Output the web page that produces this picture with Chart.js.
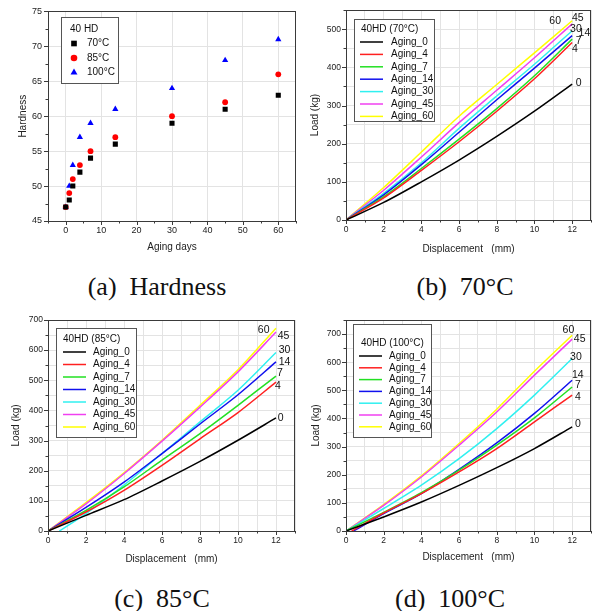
<!DOCTYPE html>
<html>
<head>
<meta charset="utf-8">
<script src="https://cdn.jsdelivr.net/npm/chart.js@4.4.1/dist/chart.umd.min.js"></script>
<style>
  body { margin: 0; background: #fff; width: 596px; height: 611px; position: relative; overflow: hidden; }
  canvas { position: absolute; }
  .cap { position: absolute; font-family: "Liberation Serif", "Times New Roman", serif; font-size: 26px; color: #111;
         white-space: pre; transform: translate(-50%, -50%); line-height: 1; }
</style>
</head>
<body>
<canvas id="chartA" width="300" height="260" style="left:0;top:0"></canvas>
<canvas id="chartB" width="296" height="260" style="left:300px;top:0"></canvas>
<canvas id="chartC" width="300" height="270" style="left:0;top:305px"></canvas>
<canvas id="chartD" width="296" height="270" style="left:300px;top:305px"></canvas>
<div class="cap" style="left:157px;top:287px">(a)  Hardness</div>
<div class="cap" style="left:465px;top:287px">(b)  70°C</div>
<div class="cap" style="left:162px;top:599px">(c)  85°C</div>
<div class="cap" style="left:450px;top:599px">(d)  100°C</div>
<script>
// données dureté
const agingDaysA = [0, 1, 2, 4, 7, 14, 30, 45, 60];
const hard70 = [47, 48, 50, 52, 54, 56, 59, 61, 63];
const hard85 = [47, 49, 51, 53, 55, 57, 60, 62, 66];
const hard100 = [47, 50, 53, 57, 59, 61, 64, 68, 71];
const tempLabels = ['70°C', '85°C', '100°C'];

// courbes charge / déplacement
const disp = [0, 2, 4, 6, 8, 10, 12];
const agingNames = ['Aging_0', 'Aging_4', 'Aging_7', 'Aging_14', 'Aging_30', 'Aging_45', 'Aging_60'];
const agingColors = ['#000000', '#ff2020', '#22e022', '#1010ee', '#30f0f0', '#f040f0', '#ffff00'];

const load70 = [
  [0, 46, 100, 157, 219, 285, 356],
  [0, 58, 130, 205, 285, 370, 465],
  [0, 61, 135, 212, 292, 378, 474],
  [0, 66, 145, 230, 315, 398, 483],
  [0, 70, 150, 240, 325, 408, 496],
  [0, 78, 165, 255, 340, 425, 514],
  [0, 85, 178, 272, 355, 438, 522]
];
const start70 = [0, 0, 0, 0, 0, 0, 0];

const load85 = [
  [0, 52, 104, 166, 231, 301, 375],
  [0, 63, 135, 218, 306, 393, 494],
  [0, 68, 146, 235, 323, 417, 514],
  [0, 78, 162, 257, 355, 452, 561],
  [0, 58, 152, 257, 362, 467, 592],
  [0, 90, 190, 298, 411, 528, 660],
  [0, 94, 193, 301, 417, 535, 673]
];
const start85 = [0, 0, 0, 0, 0.6, 0, 0];

const load100 = [
  [0, 50, 103, 162, 225, 293, 370],
  [0, 64, 133, 210, 293, 388, 483],
  [0, 66, 136, 216, 305, 402, 512],
  [0, 62, 133, 219, 313, 418, 536],
  [0, 80, 163, 257, 364, 483, 613],
  [0, 91, 192, 305, 423, 554, 682],
  [0, 94, 196, 311, 433, 568, 696]
];
const start100 = [0, 0.3, 0, 0.4, 0, 0, 0];

Chart.defaults.font.family = '"Liberation Sans", Arial, sans-serif';
Chart.defaults.color = '#222';

// réglages de décor par graphique (légende, étiquettes de fin)
const deco = {
  chartA: {
    xMajor: 10, yMajor: 5,
    legend: { kind: 'marker', x: 61, y: 17, w: 57, h: 66, title: '40 HD', titleX: 70, titleY: 29,
              row0: 43.5, rowH: 14.5, symX: 74, textX: 87, font: 10 },
    ends: []
  },
  chartB: {
    xMajor: 2, yMajor: 100,
    legend: { kind: 'line', x: 54, y: 19, w: 80, h: 102, title: '40HD (70°C)', titleX: 61, titleY: 29.5,
              row0: 42, rowH: 12.4, symX: 60, symX2: 83, textX: 91, font: 10 },
    ends: [['60', 11.1, 522], ['45', 12.3, 528], ['30', 12.2, 501], ['14', 12.65, 491],
           ['7', 12.35, 470], ['4', 12.15, 449], ['0', 12.35, 358]]
  },
  chartC: {
    xMajor: 2, yMajor: 100,
    legend: { kind: 'line', x: 56, y: 23, w: 80, h: 109, title: '40HD (85°C)', titleX: 63, titleY: 34,
              row0: 47, rowH: 12.5, symX: 63, symX2: 86, textX: 93, font: 10 },
    ends: [['60', 11.35, 666], ['45', 12.4, 647], ['30', 12.45, 600], ['14', 12.45, 559],
           ['7', 12.2, 525], ['4', 12.1, 481], ['0', 12.25, 373]]
  },
  chartD: {
    xMajor: 2, yMajor: 100,
    legend: { kind: 'line', x: 53, y: 19, w: 78, h: 113, title: '40HD (100°C)', titleX: 61, titleY: 38,
              row0: 51, rowH: 11.8, symX: 59, symX2: 82, textX: 89, font: 10 },
    ends: [['60', 11.8, 714], ['45', 12.4, 682], ['30', 12.2, 617], ['14', 12.3, 554],
           ['7', 12.3, 518], ['4', 12.3, 477], ['0', 12.3, 379]]
  }
};

function isMajor(v, major) {
  const r = v / major;
  return Math.abs(r - Math.round(r)) < 1e-6;
}

function drawMarker(ctx, style, x, y, r, color) {
  ctx.fillStyle = color;
  ctx.beginPath();
  if (style === 'rect') {
    const s = r * Math.SQRT1_2;
    ctx.rect(x - s, y - s, 2 * s, 2 * s);
  } else if (style === 'triangle') {
    ctx.moveTo(x, y - r);
    ctx.lineTo(x + r * 0.866, y + r * 0.5);
    ctx.lineTo(x - r * 0.866, y + r * 0.5);
    ctx.closePath();
  } else {
    ctx.arc(x, y, r, 0, Math.PI * 2);
  }
  ctx.fill();
}

const decorPlugin = {
  id: 'decor',
  afterDraw(chart) {
    const conf = deco[chart.canvas.id];
    const { ctx, chartArea: a, scales: { x, y } } = chart;
    ctx.save();
    // cadre
    ctx.strokeStyle = '#3a3a3a';
    ctx.lineWidth = 1;
    ctx.strokeRect(Math.round(a.left) + 0.5, Math.round(a.top) + 0.5,
                   Math.round(a.right - a.left) - 1, Math.round(a.bottom - a.top));
    // graduations vers l'extérieur
    ctx.beginPath();
    x.ticks.forEach(t => {
      const px = Math.round(x.getPixelForValue(t.value)) + 0.5;
      const len = isMajor(t.value, conf.xMajor) ? 4 : 2.5;
      ctx.moveTo(px, a.bottom);
      ctx.lineTo(px, a.bottom + len);
    });
    y.ticks.forEach(t => {
      const py = Math.round(y.getPixelForValue(t.value)) + 0.5;
      const len = isMajor(t.value, conf.yMajor) ? 4 : 2.5;
      ctx.moveTo(a.left, py);
      ctx.lineTo(a.left - len, py);
    });
    ctx.stroke();

    // étiquettes de fin de courbe
    ctx.fillStyle = '#111';
    ctx.font = '10.5px "Liberation Sans", Arial, sans-serif';
    ctx.textAlign = 'center';
    ctx.textBaseline = 'middle';
    conf.ends.forEach(([txt, vx, vy]) => {
      ctx.fillText(txt, x.getPixelForValue(vx), y.getPixelForValue(vy));
    });

    // légende encadrée
    const L = conf.legend;
    ctx.fillStyle = '#fff';
    ctx.fillRect(L.x, L.y, L.w, L.h);
    ctx.strokeStyle = '#555';
    ctx.strokeRect(L.x + 0.5, L.y + 0.5, L.w, L.h);
    ctx.fillStyle = '#111';
    ctx.font = L.font + 'px "Liberation Sans", Arial, sans-serif';
    ctx.textAlign = 'left';
    ctx.fillText(L.title, L.titleX, L.titleY);
    chart.data.datasets.forEach((ds, i) => {
      const ry = L.row0 + i * L.rowH;
      if (L.kind === 'marker') {
        drawMarker(ctx, ds.pointStyle, L.symX, ry, ds.pointRadius + 0.4, ds.backgroundColor);
      } else {
        ctx.strokeStyle = ds.borderColor;
        ctx.lineWidth = 1.5;
        ctx.beginPath();
        ctx.moveTo(L.symX, ry);
        ctx.lineTo(L.symX2, ry);
        ctx.stroke();
      }
      ctx.fillStyle = '#111';
      ctx.fillText(ds.label, L.textX, ry);
    });
    ctx.restore();
  }
};

function makeScales(c) {
  const gridColor = (major, minorGrid) => ctx =>
    (minorGrid || isMajor(ctx.tick.value, major)) ? '#e3e3e3' : 'rgba(0,0,0,0)';
  return {
    x: {
      type: 'linear', min: c.xMin, max: c.xMax,
      afterFit: s => { s.height = c.xH; },
      border: { display: false },
      grid: { color: gridColor(c.xMajor, c.minorGrid), drawTicks: false, lineWidth: 1 },
      ticks: {
        stepSize: c.xStep, autoSkip: false, maxRotation: 0, padding: c.xTickPad,
        font: { size: c.tickFont }, color: '#222',
        callback: v => isMajor(v, c.xMajor) && v >= 0 ? String(v) : ''
      },
      title: { display: true, text: c.xTitle, font: { size: c.titleFont }, color: '#222',
               padding: { top: 0, bottom: c.xTitlePad } }
    },
    y: {
      type: 'linear', min: c.yMin, max: c.yMax,
      afterFit: s => { s.width = c.yW; },
      border: { display: false },
      grid: { color: gridColor(c.yMajor, c.minorGrid), drawTicks: false, lineWidth: 1 },
      ticks: {
        stepSize: c.yStep, autoSkip: false, padding: c.yTickPad,
        font: { size: c.tickFont }, color: '#222',
        callback: v => isMajor(v, c.yMajor) ? String(v) : ''
      },
      title: { display: true, text: c.yTitle, font: { size: c.titleFont }, color: '#222',
               padding: { top: c.yTitlePad, bottom: 0 } }
    }
  };
}

const baseOptions = (pad, scales) => ({
  responsive: false,
  animation: false,
  layout: { padding: pad },
  plugins: { legend: { display: false }, tooltip: { enabled: false } },
  scales
});

// (a) dureté
const hardSeries = [hard70, hard85, hard100];
const hardStyles = ['rect', 'circle', 'triangle'];
const hardColors = ['#000000', '#ff0000', '#0000ff'];
const hardRadius = [3.6, 2.9, 3.6];
new Chart(document.getElementById('chartA'), {
  type: 'scatter',
  data: {
    datasets: hardSeries.map((vals, i) => ({
      label: tempLabels[i],
      data: agingDaysA.map((d, k) => ({ x: d, y: vals[k] })),
      pointStyle: hardStyles[i],
      pointRadius: hardRadius[i],
      backgroundColor: hardColors[i],
      borderColor: hardColors[i],
      borderWidth: 0
    }))
  },
  options: baseOptions({ top: 9, right: 2, left: 0, bottom: 0 }, makeScales({
    xMin: -5, xMax: 65, xStep: 5, xMajor: 10, yMin: 45, yMax: 75, yStep: 2.5, yMajor: 5,
    xH: 39, yW: 48, minorGrid: false, tickFont: 9, titleFont: 10,
    xTitle: 'Aging days', yTitle: 'Hardness', xTitlePad: 7, yTitlePad: 17, xTickPad: 4, yTickPad: 6
  })),
  plugins: [decorPlugin]
});

// (b)(c)(d) charge / déplacement
function loadDatasets(loads, starts) {
  return loads.map((vals, i) => ({
    label: agingNames[i],
    data: disp.map((d, k) => ({ x: k === 0 ? starts[i] : d, y: vals[k] })),
    borderColor: agingColors[i],
    backgroundColor: agingColors[i],
    borderWidth: 1.5,
    pointRadius: 0,
    showLine: true,
    tension: 0.3
  }));
}

function makeLoadChart(id, loads, starts, yMax, pad, xH, xTitlePad, yTitlePad) {
  new Chart(document.getElementById(id), {
    type: 'scatter',
    data: { datasets: loadDatasets(loads, starts) },
    options: baseOptions(pad, makeScales({
      xMin: 0, xMax: 13, xStep: 1, xMajor: 2, yMin: 0, yMax: yMax, yStep: 50, yMajor: 100,
      xH: xH, yW: 46, minorGrid: true, tickFont: 8.5, titleFont: 10,
      xTitle: 'Displacement   (mm)', yTitle: 'Load (kg)', xTitlePad: xTitlePad, yTitlePad: yTitlePad,
      xTickPad: 5, yTickPad: 5
    })),
    plugins: [decorPlugin]
  });
}

makeLoadChart('chartB', load70, start70, 550, { top: 9, right: 0, left: 0, bottom: 0 }, 40, 5, 9);
makeLoadChart('chartC', load85, start85, 700, { top: 15, right: 0, left: 2, bottom: 0 }, 44, 10, 8);
makeLoadChart('chartD', load100, start100, 750, { top: 15, right: 0, left: 0, bottom: 0 }, 44, 12, 10);
</script>
</body>
</html>
